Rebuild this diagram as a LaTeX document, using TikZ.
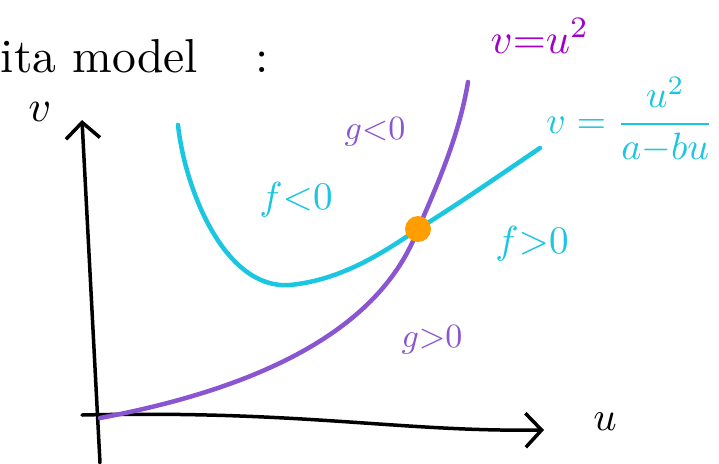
\documentclass[tikz,border=0pt]{standalone}
\usepackage{amsmath,amssymb}
\usepackage{tikz}
\usetikzlibrary{arrows.meta}
\usepackage{xcolor}

\definecolor{gpurple}{HTML}{8A55D0}
\definecolor{lblpurple}{HTML}{A000C8}
\definecolor{fcyan}{HTML}{1AC6E0}
\definecolor{dotorange}{HTML}{FF9E00}

\tikzset{
  axis/.style={line width=3.5pt,line cap=round,-{Straight Barb[length=16pt,width=34pt,line width=3.5pt]}},
  gcurve/.style={gpurple,line width=4.5pt,line cap=round},
  fcurve/.style={fcyan,line width=4.5pt,line cap=round},
  lbl/.style={inner sep=0pt,scale=3.4}
}

\begin{document}
\begin{tikzpicture}[x=1pt,y=-1pt]

  \useasboundingbox (0,0) rectangle (719,463);

  % --- title ---
  \node[lbl,anchor=west,scale=1.4] (title) at (0,56) {ita model\hspace{1.2em}:};

  % --- axes ---
  \coordinate (vbot) at (100,463);
  \coordinate (vtop) at (82,120);
  \coordinate (ustart) at (82,415);
  \coordinate (uend) at (544,430);
  \draw[axis] (vbot) -- (vtop);
  \draw[axis] (ustart) .. controls (300,410) and (400,432) .. (uend);
  \node[lbl,scale=1.3] (vlabel) at (40,112) {$v$};
  \node[lbl,scale=1.2] (ulabel) at (605,422) {$u$};

  % --- nullclines ---
  \coordinate (fix) at (418,229);
  \draw[gcurve] (100,418) .. controls (260,388) and (380,330) .. (fix)
    .. controls (442,175) and (460,130) .. (468,82);
  \draw[fcurve] (178,125) .. controls (185,190) and (225,290) .. (290,285)
    .. controls (340,280) and (380,255) .. (fix)
    .. controls (460,203) and (500,175) .. (540,148);

  % fixed point
  \fill[dotorange] (fix) circle [radius=13];

  % --- labels ---
  \node[lbl,lblpurple,scale=1.25] (glabel) at (540,36) {$v{=}u^2$};
  \node[lbl,fcyan,scale=1.12] (flabel) at (630,120) {$v=\dfrac{u^2}{a{-}bu}$};
  \node[lbl,gpurple] (gneg) at (375,132) {$g{<}0$};
  \node[lbl,fcyan,scale=1.15] (fneg) at (296,200) {$f{<}0$};
  \node[lbl,fcyan,scale=1.15] (fpos) at (532,244) {$f{>}0$};
  \node[lbl,gpurple] (gpos) at (432,340) {$g{>}0$};

\end{tikzpicture}
\end{document}
